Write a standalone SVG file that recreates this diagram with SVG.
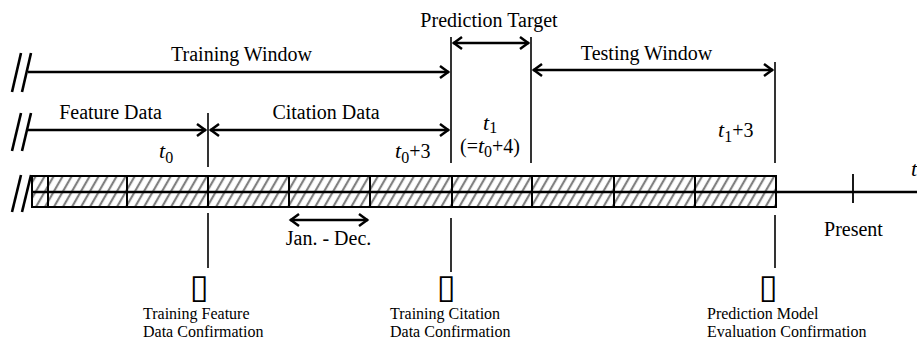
<svg xmlns="http://www.w3.org/2000/svg" width="917" height="340" viewBox="0 0 917 340">
<style>
text{font-family:"Liberation Serif","Times New Roman",serif;fill:#000}
.lbl{font-size:20px}
.sm{font-size:16px}
.it{font-style:italic}
.arr{stroke:#000;stroke-width:2.5;fill:none}
.vl{stroke:#000;stroke-width:1.6}
.brk{stroke:#000;stroke-width:2.6}
.cell{stroke:#000;stroke-width:2;fill:none}
.tofu{font-family:"DejaVu Sans",sans-serif;font-size:34px}
</style>
<defs>
<marker id="ah" viewBox="-12 -8 14 16" refX="0" refY="0" markerWidth="14" markerHeight="16" markerUnits="userSpaceOnUse" orient="auto-start-reverse">
<path d="M-9,-6 L-0.8,0 L-9,6" fill="none" stroke="#000" stroke-width="2.5"/>
</marker>
<pattern id="hatch" patternUnits="userSpaceOnUse" width="7.8" height="10" patternTransform="rotate(30)">
<line x1="2" y1="-1" x2="2" y2="11" stroke="#808080" stroke-width="2.2"/>
</pattern>
</defs>
<rect width="917" height="340" fill="#fff"/>

<g id="timeline">
<rect x="32" y="176" width="744" height="31" fill="url(#hatch)"/>
<line x1="32" y1="192" x2="917" y2="192" stroke="#000" stroke-width="2.4"/>
<rect class="cell" x="32" y="176" width="744" height="31"/>
<path class="cell" d="M48,176V207M127,176V207M208,176V207M289,176V207M370,176V207M452,176V207M532,176V207M614,176V207M695,176V207"/>
<line x1="853" y1="174" x2="853" y2="203" stroke="#000" stroke-width="1.8"/>
<text class="it" x="911" y="176" font-size="22">t</text>
</g>

<g id="breaks">
<line class="brk" x1="12" y1="92" x2="21" y2="53"/>
<line class="brk" x1="22" y1="92" x2="31" y2="53"/>
<line class="brk" x1="12" y1="151" x2="21" y2="113"/>
<line class="brk" x1="22" y1="151" x2="31" y2="113"/>
<line class="brk" x1="12" y1="212" x2="21" y2="175"/>
<line class="brk" x1="22" y1="212" x2="31" y2="175"/>
</g>

<g id="markers">
<line class="vl" x1="208" y1="113" x2="208" y2="167"/>
<line class="vl" x1="208" y1="213" x2="208" y2="268"/>
<line class="vl" x1="451" y1="37" x2="451" y2="163"/>
<line class="vl" x1="451" y1="218" x2="451" y2="272"/>
<line class="vl" x1="531" y1="37" x2="531" y2="163"/>
<line class="vl" x1="775" y1="62" x2="775" y2="163"/>
<line class="vl" x1="775" y1="215" x2="775" y2="268"/>
</g>

<g id="connectors">
<line class="arr" x1="28" y1="72" x2="449" y2="72" marker-end="url(#ah)"/>
<line class="arr" x1="28" y1="130" x2="206" y2="130" marker-end="url(#ah)"/>
<line class="arr" x1="210" y1="130" x2="449" y2="130" marker-start="url(#ah)" marker-end="url(#ah)"/>
<line class="arr" x1="453" y1="43" x2="529" y2="43" marker-start="url(#ah)" marker-end="url(#ah)"/>
<line class="arr" x1="533" y1="70" x2="773" y2="70" marker-start="url(#ah)" marker-end="url(#ah)"/>
<line class="arr" x1="290" y1="220" x2="368" y2="220" marker-start="url(#ah)" marker-end="url(#ah)"/>
</g>

<g id="training-window"><text class="lbl" x="241.5" y="61" text-anchor="middle">Training Window</text></g>
<g id="prediction-target"><text class="lbl" x="489" y="27" text-anchor="middle">Prediction Target</text></g>
<g id="testing-window"><text class="lbl" x="646.5" y="60" text-anchor="middle">Testing Window</text></g>
<g id="feature-data"><text class="lbl" x="110.5" y="119" text-anchor="middle">Feature Data</text></g>
<g id="citation-data"><text class="lbl" x="326" y="119" text-anchor="middle">Citation Data</text></g>

<g id="t0"><text x="159" y="158" font-size="22"><tspan class="it">t</tspan><tspan font-size="16" dy="5">0</tspan></text></g>
<g id="t0p3"><text x="395" y="158" font-size="22"><tspan class="it">t</tspan><tspan font-size="16" dy="5">0</tspan><tspan font-size="20" dy="-5">+3</tspan></text></g>
<g id="t1"><text x="483" y="130" font-size="22"><tspan class="it">t</tspan><tspan font-size="16" dy="3">1</tspan></text>
<text x="460" y="153" font-size="20">(=<tspan class="it" font-size="22">t</tspan><tspan font-size="16" dy="4">0</tspan><tspan dy="-4">+4)</tspan></text></g>
<g id="t1p3"><text x="718" y="137" font-size="22"><tspan class="it">t</tspan><tspan font-size="16" dy="5">1</tspan><tspan font-size="20" dy="-5">+3</tspan></text></g>

<g id="jan-dec"><text class="lbl" x="328.5" y="245" text-anchor="middle">Jan. - Dec.</text></g>
<g id="present"><text class="lbl" x="853.5" y="236" text-anchor="middle">Present</text></g>

<g id="training-feature-confirmation">
<text class="tofu" x="199" y="298" text-anchor="middle">▯</text>
<text class="sm" x="143" y="319">Training Feature</text>
<text class="sm" x="143" y="337">Data Confirmation</text>
</g>
<g id="training-citation-confirmation">
<text class="tofu" x="446" y="298" text-anchor="middle">▯</text>
<text class="sm" x="390" y="319">Training Citation</text>
<text class="sm" x="390" y="337">Data Confirmation</text>
</g>
<g id="evaluation-confirmation">
<text class="tofu" x="768" y="298" text-anchor="middle">▯</text>
<text class="sm" x="707" y="319">Prediction Model</text>
<text class="sm" x="707" y="337">Evaluation Confirmation</text>
</g>
</svg>
